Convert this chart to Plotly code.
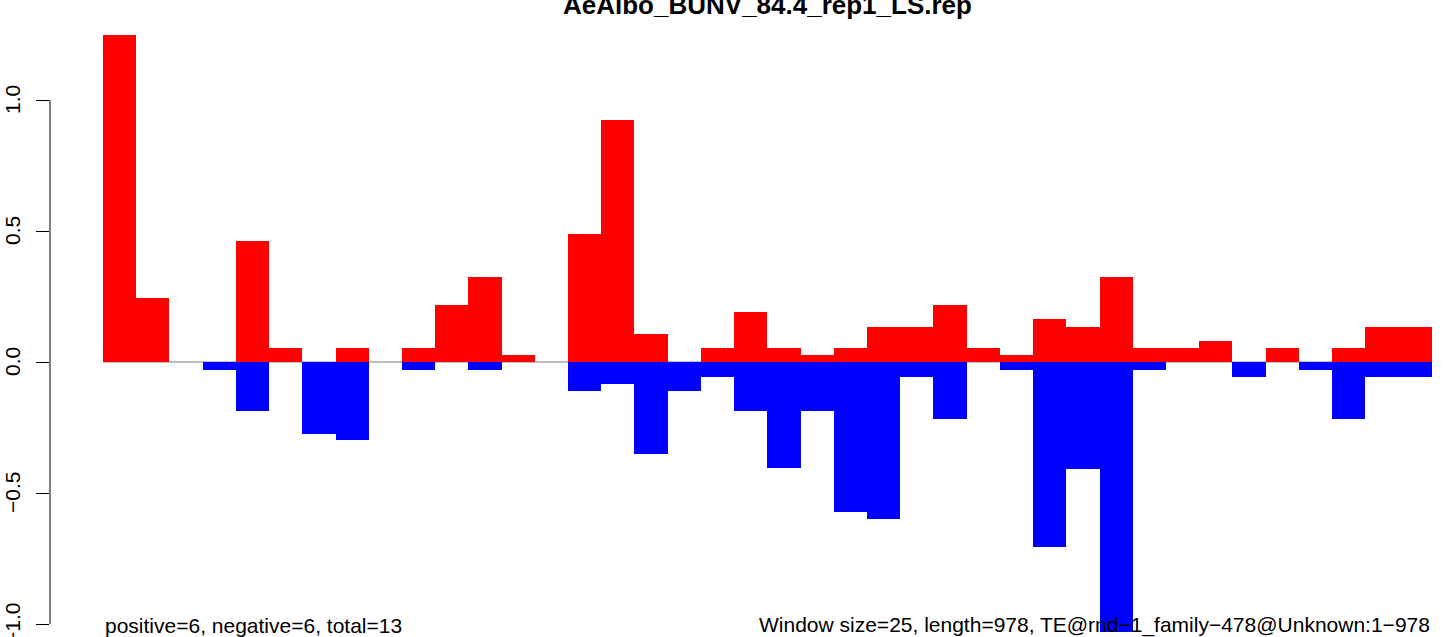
import plotly.graph_objects as go

# window index (1..40, window size 25 over length 978)
windows = list(range(1, 41))

# positive and negative scores per window
pos_values = [1.248, 0.244, 0, 0, 0.462, 0.053, 0, 0.053, 0, 0.053,
              0.218, 0.324, 0.027, 0, 0.489, 0.924, 0.107, 0, 0.053, 0.191,
              0.053, 0.027, 0.053, 0.134, 0.134, 0.218, 0.053, 0.027, 0.164, 0.134,
              0.324, 0.053, 0.053, 0.080, 0, 0.053, 0, 0.053, 0.134, 0.134]
neg_values = [0, 0, 0, -0.030, -0.187, 0, -0.275, -0.298, 0, -0.030,
              0, -0.030, 0, 0, -0.110, -0.084, -0.351, -0.110, -0.056, -0.187,
              -0.405, -0.187, -0.571, -0.599, -0.056, -0.218, 0, -0.030, -0.707, -0.409,
              -1.031, -0.030, 0, 0, -0.057, 0, -0.030, -0.218, -0.057, -0.057]

tick_vals = [-1.0, -0.5, 0.0, 0.5, 1.0]
tick_text = ["\u22121.0", "\u22120.5", "0.0", "0.5", "1.0"]

title_text = "AeAlbo_BUNV_84.4_rep1_LS.rep"
left_note = "positive=6, negative=6, total=13"
right_note = "Window size=25, length=978, TE@rnd\u22121_family\u2212478@Unknown:1\u2212978"

FONT = "Liberation Sans, Arial, Helvetica, sans-serif"

fig = go.Figure()
fig.add_trace(go.Bar(x=windows, y=pos_values, width=1,
                     marker=dict(color="#FF0000", line=dict(width=0))))
fig.add_trace(go.Bar(x=windows, y=neg_values, width=1,
                     marker=dict(color="#0000FF", line=dict(width=0))))

# baseline at zero, under the bars
fig.add_shape(type="line", xref="x", yref="y", x0=0.5, x1=40.5, y0=0, y1=0,
              line=dict(color="gray", width=1), layer="below")
# R-style axis line, only between first and last tick
fig.add_shape(type="line", xref="paper", yref="y", x0=0, x1=0, y0=-1, y1=1,
              line=dict(color="black", width=1))

# rotated tick labels as annotations so the bottom one is kept even if it spills
for v, t in zip(tick_vals, tick_text):
    fig.add_annotation(text=t, xref="paper", yref="y", x=0, y=v, xshift=-38,
                       xanchor="center", yanchor="middle", textangle=-90,
                       showarrow=False, font=dict(size=21, color="black", family=FONT))

fig.add_annotation(text=f"<b>{title_text}</b>", xref="x", yref="paper",
                   x=20.5, y=1, xanchor="center", yanchor="top", yshift=12,
                   showarrow=False, font=dict(size=26, color="black", family=FONT))
fig.add_annotation(text=left_note, xref="x", yref="paper", x=0.5, y=0,
                   xanchor="left", yanchor="bottom", yshift=-2, showarrow=False,
                   font=dict(size=21, color="black", family=FONT))
fig.add_annotation(text=right_note, xref="x", yref="paper", x=40.5, y=0,
                   xanchor="right", yanchor="bottom", yshift=-2, showarrow=False,
                   font=dict(size=21, color="black", family=FONT))

fig.update_layout(
    width=1444, height=637,
    barmode="overlay", bargap=0,
    showlegend=False,
    paper_bgcolor="white", plot_bgcolor="white",
    margin=dict(l=50, r=0, t=0, b=0),
    font=dict(family=FONT, color="black"),
    xaxis=dict(visible=False, range=[-1.095, 40.87], fixedrange=True),
    yaxis=dict(range=[-1.0496, 1.3817], tickvals=tick_vals, showticklabels=False,
               ticks="outside", ticklen=13, tickwidth=1,
               tickcolor="black", showgrid=False, zeroline=False, showline=False,
               automargin=False),
)

# drop the default page margin so the figure sits at the window's corner
fig.write_html("out.html", config={"displayModeBar": False},
               post_script="document.body.style.margin='0';")
